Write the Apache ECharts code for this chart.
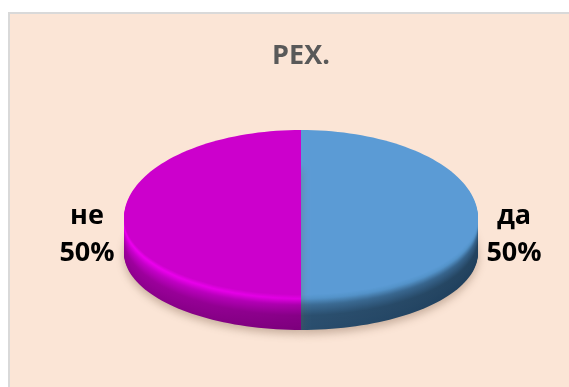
<!DOCTYPE html>
<html><head><meta charset="utf-8">
<style>html,body{margin:0;padding:0;background:#fff}#c{width:569px;height:387px}</style>
<script src="https://cdn.jsdelivr.net/npm/echarts@6/dist/echarts.min.js"></script>
</head><body><div id="c"></div>
<script>
var titleText = 'РЕХ.';
var categories = ['да', 'не'];
var values = [50, 50];

var FONT = '"Open Sans", "Noto Sans", sans-serif';
var cx = 301, cy = 218, rx = 177, ryBack = 88, ryFront = 77, depth = 35;
var total = values.reduce(function (a, b) { return a + b; }, 0);

var faceColors = ['#5b9bd5', '#cc00cc'];
// side wall colours per slice, from the rim (top) to the base (bottom); each [outer edge, centre]
var sideRamp = [
  [['#5b9bd5', '#5b9bd5'], ['#5392c8', '#5392c8'], ['#36628a', '#3c6c95'], ['#244460', '#2b5070'], ['#1f3f5c', '#2a4e6e']],
  [['#cc00cc', '#cc00cc'], ['#ee00f0', '#e000e2'], ['#c800cc', '#a800aa'], ['#a000a0', '#860086'], ['#8e008e', '#7c007c']]
];
var rampStops = [0, 0.12, 0.3, 0.6, 1];

function lerpHex(a, b, t) {
  var pa = parseInt(a.slice(1), 16), pb = parseInt(b.slice(1), 16), out = [];
  for (var s = 16; s >= 0; s -= 8) {
    var x = (pa >> s) & 255, y = (pb >> s) & 255;
    out.push(Math.round(x + (y - x) * t));
  }
  return 'rgb(' + out.join(',') + ')';
}
function rampColor(ramp, t, which) {
  for (var i = 1; i < rampStops.length; i++) {
    if (t <= rampStops[i]) {
      return lerpHex(ramp[i - 1][which], ramp[i][which], (t - rampStops[i - 1]) / (rampStops[i] - rampStops[i - 1]));
    }
  }
  return ramp[ramp.length - 1][which];
}
// slice angles, clockwise from 12 o'clock
function sliceAngles(idx) {
  var before = 0;
  for (var i = 0; i < idx; i++) before += values[i];
  return [before / total * 2 * Math.PI, (before + values[idx]) / total * 2 * Math.PI];
}
// outline of the disc in perspective: the near half is flatter than the far half
function pt(a, dy) {
  var c = Math.cos(a);
  return [cx + rx * Math.sin(a), cy + dy - (c > 0 ? ryBack : ryFront) * c];
}
function slicePoly(a0, a1, dy) {
  var n = 90, pts = [[cx, cy + dy]];
  for (var k = 0; k <= n; k++) pts.push(pt(a0 + (a1 - a0) * k / n, dy));
  return pts;
}

function renderSlice(params, api) {
  var i = params.dataIndex, ang = sliceAngles(i), ch = [];
  var ramp = sideRamp[i];
  var leftSide = (ang[0] + ang[1]) / 2 > Math.PI;
  // drop shadow under the wall
  ch.push({ type: 'polygon', shape: { points: slicePoly(ang[0], ang[1], depth) },
    style: { fill: '#c9b3a4', shadowBlur: 9, shadowColor: 'rgba(120,90,70,0.4)', shadowOffsetY: 4 } });
  // wall: stacked copies of the slice, stepping from the base up to the rim
  for (var d = depth; d >= 1; d--) {
    var t = d / depth;
    var edge = rampColor(ramp, t, 0), mid = rampColor(ramp, t, 1);
    ch.push({ type: 'polygon', shape: { points: slicePoly(ang[0], ang[1], d) },
      style: { fill: { type: 'linear', x: 0, y: 0, x2: 1, y2: 0,
        colorStops: leftSide
          ? [{ offset: 0, color: edge }, { offset: 1, color: mid }]
          : [{ offset: 0, color: mid }, { offset: 1, color: edge }] } } });
  }
  // top face
  ch.push({ type: 'polygon', shape: { points: slicePoly(ang[0], ang[1], 0) }, style: { fill: faceColors[i] } });
  // label
  var mid = (ang[0] + ang[1]) / 2;
  ch.push({ type: 'text', x: mid < Math.PI ? 514 : 87, y: 235,
    style: { text: categories[i] + '\n' + Math.round(api.value(0) / total * 100) + '%',
      font: 'bold 27px ' + FONT, fill: '#000', align: 'center', verticalAlign: 'middle', lineHeight: 37 } });
  return { type: 'group', children: ch };
}

var chart = echarts.init(document.getElementById('c'), null, { renderer: 'canvas' });
chart.setOption({
  animation: false,
  backgroundColor: '#ffffff',
  title: { text: titleText, left: 296, top: 38, textAlign: 'center',
    textStyle: { fontFamily: FONT, fontSize: 27, fontWeight: 'bold', color: '#595959' } },
  graphic: [{ type: 'rect', z: -1, shape: { x: 9, y: 13, width: 570, height: 390 },
    style: { fill: '#fbe5d6', stroke: '#d9d9d9', lineWidth: 2 } }],
  series: [{ type: 'custom', coordinateSystem: 'none', renderItem: renderSlice,
    data: values.map(function (v, i) { return { name: categories[i], value: [v] }; }) }]
});
</script></body></html>
